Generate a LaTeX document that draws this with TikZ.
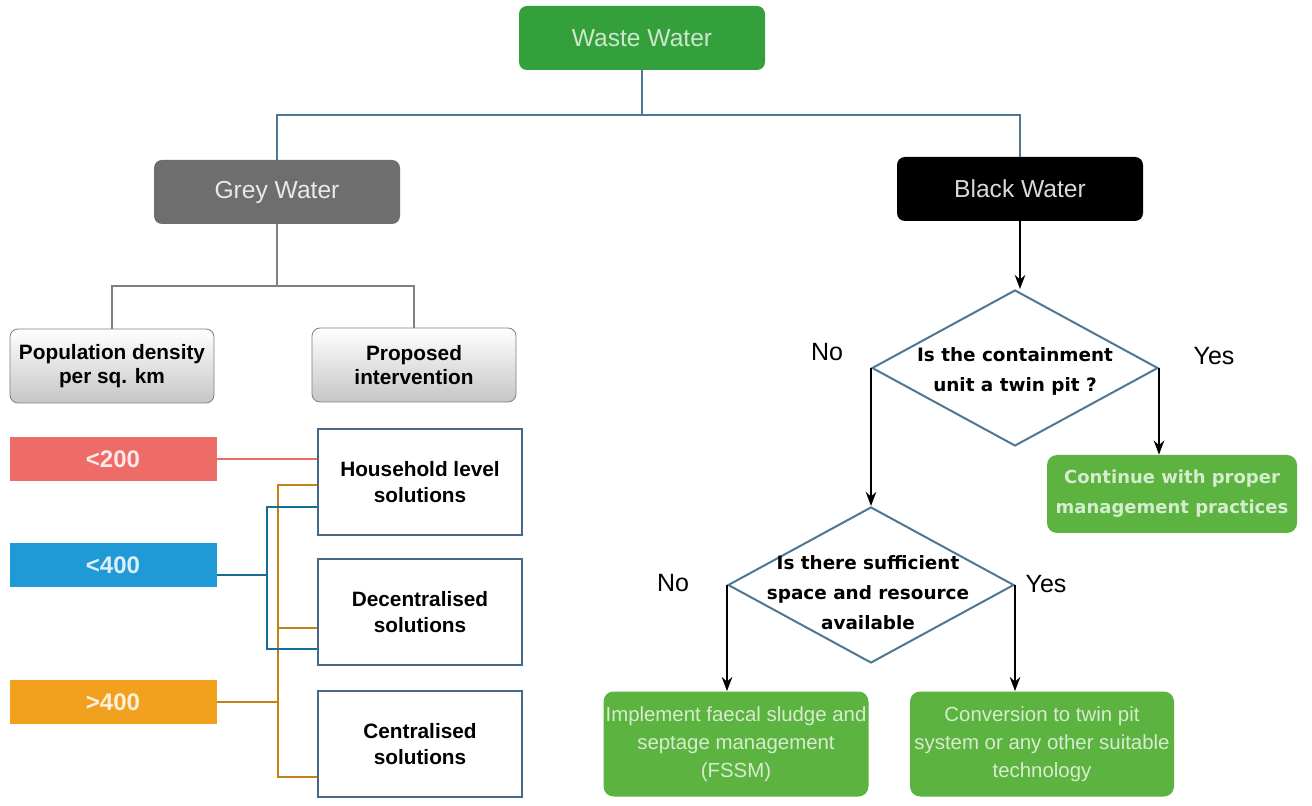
\documentclass[tikz,border=0pt]{standalone}
\usepackage{fontspec}
\setmainfont{Liberation Sans}
\newfontfamily\wideface{DejaVu Sans}
\usepackage{tikz}
\usetikzlibrary{arrows.meta, positioning, shapes.geometric}

\definecolor{wwgreen}{HTML}{34A03C}
\definecolor{leafgreen}{HTML}{5CB340}
\definecolor{greybox}{HTML}{6E6E6E}
\definecolor{linkblue}{HTML}{4D7795}
\definecolor{frameblue}{HTML}{46698A}
\definecolor{lowred}{HTML}{EE6C68}
\definecolor{midblue}{HTML}{1F9AD6}
\definecolor{highorange}{HTML}{F1A11E}

\begin{document}
\begin{tikzpicture}[x=0.5pt, y=-0.5pt,
            head/.style={rounded corners=4pt, minimum width=123pt,
                    minimum height=32pt, font=\fontsize{12.3}{14}\selectfont},
            hdr/.style={draw=gray, rounded corners=4pt, top color=white,
                    bottom color=gray!45, minimum width=102pt, minimum height=37pt,
                    align=center, font=\bfseries\fontsize{10.4}{12}\selectfont},
            band/.style={minimum width=103.5pt, minimum height=22pt,
                    text=white!85!#1, fill=#1, font=\bfseries\fontsize{12}{14}\selectfont},
            sol/.style={draw=frameblue, line width=1pt, fill=white, minimum width=102pt,
                    minimum height=53pt, align=center,
                    font=\bfseries\fontsize{10.4}{13}\selectfont},
            decision/.style={diamond, draw=linkblue, line width=1pt, minimum width=143pt,
                    minimum height=78pt, inner sep=0pt},
            qtext/.style={align=center, font=\wideface\bfseries\fontsize{9.2}{15}\selectfont},
            leaf/.style={fill=leafgreen, rounded corners=5pt, align=center,
                    inner xsep=1pt, inner ysep=2pt, text=white!75!leafgreen},
            answer/.style={font=\fontsize{12.5}{14}\selectfont},
            tree/.style={draw=linkblue, line width=1pt},
            sub/.style={draw=gray, line width=1pt},
            link/.style={line width=1.2pt},
            arr/.style={->, line width=0.9pt, >=Stealth}]

        \useasboundingbox (0,0) rectangle (1312,806);

        % top of the tree
        \node[head, fill=wwgreen, text=white!75!wwgreen] (ww) at (642,38) {Waste Water};
        \node[head, fill=greybox, text=white!85!greybox] (gw) at (277,192) {Grey Water};
        \node[head, fill=black, text=white!85!black] (bw) at (1020,189) {Black Water};

        \draw[tree] (ww.south) -- ++(0,45) -| (gw.north);
        \draw[tree] (ww.south) -- ++(0,45) -| (bw.north);

        % grey water side
        \node[hdr] (pd) at (112,366) {Population density\\per sq. km};
        \node[hdr] (pi) at (414,365) {Proposed\\intervention};

        \draw[sub] (gw.south) -- ++(0,62) -| (pd.north);
        \draw[sub] (gw.south) -- ++(0,62) -| (pi.north);

        \node[band=lowred]     (lo)  at (113,459) {<200};
        \node[band=midblue]    (mid) at (113,565) {<400};
        \node[band=highorange] (hi)  at (113,702) {>400};

        \node[sol] (hh) at (420,482) {Household level\\solutions};
        \node[sol] (dc) at (420,612) {Decentralised\\solutions};
        \node[sol] (cs) at (420,744) {Centralised\\solutions};

        \draw[link, lowred] (lo.east) -- (lo.east -| hh.west);

        \draw[link, highorange!80!black] (hi.east) -- ++(61,0) coordinate (oj);
        \draw[link, highorange!80!black] ([yshift=-1.5pt]hh.west) -| (oj)
            |- ([yshift=-16.5pt]cs.west);
        \draw[link, highorange!80!black] ([yshift=-8pt]dc.west) -- ++(-40,0);

        \draw[link, midblue!70!black] ([yshift=-5pt]mid.east) -- ++(50,0) coordinate (bj);
        \draw[link, midblue!70!black] ([yshift=-12.5pt]hh.west) -| (bj)
            |- ([yshift=-18.5pt]dc.west);

        % black water side
        \node[decision] (q1) at (1015,368) {};
        \node[qtext] (q1t) at (1015,371) {Is the containment\\unit a twin pit ?};
        \node[decision] (q2) at (871,585) {};
        \node[qtext] (q2t) at (868,593) {Is there sufficient\\space and resource\\available};

        \node[leaf, minimum width=125pt, minimum height=39pt,
              font=\wideface\bfseries\fontsize{9}{15}\selectfont] (cont) at (1172,494)
            {Continue with proper\\management practices};
        \node[leaf, minimum width=132.5pt, minimum height=52.5pt,
              font=\fontsize{10.2}{14}\selectfont] (fssm) at (736,744)
            {Implement faecal sludge and\\septage management\\(FSSM)};
        \node[leaf, minimum width=132pt, minimum height=52.5pt,
              font=\fontsize{10.2}{14}\selectfont] (conv) at (1042,744)
            {Conversion to twin pit\\system or any other suitable\\technology};

        \node[answer] (no1)  at (827,352)  {No};
        \node[answer] (yes1) at (1214,356) {Yes};
        \node[answer] (no2)  at (673,583)  {No};
        \node[answer] (yes2) at (1046,584) {Yes};

        \draw[arr] (bw.south) -- (bw.south |- q1.north);
        \draw[arr] (q1.west) -- (q1.west |- q2.north);
        \draw[arr] (q1.east) -- (q1.east |- cont.north);
        \draw[arr] (q2.west) -- (q2.west |- fssm.north);
        \draw[arr] (q2.east) -- (q2.east |- conv.north);
    \end{tikzpicture}
\end{document}
